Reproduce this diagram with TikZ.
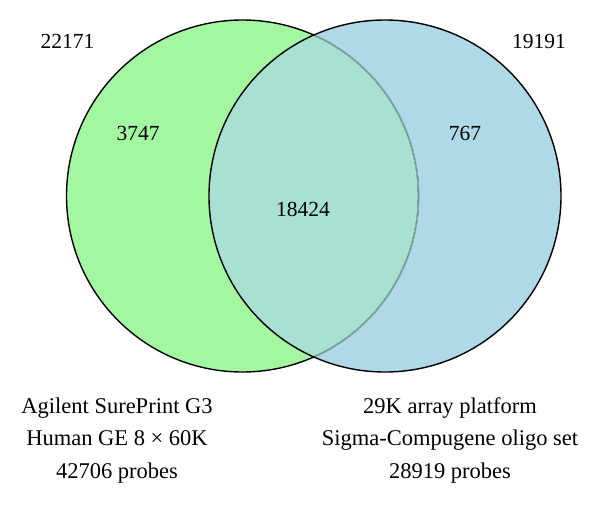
\documentclass[tikz,border=0pt]{standalone}
\usepackage{fontspec}
\setmainfont{Liberation Serif}
\definecolor{vgreen}{RGB}{164,247,161}
\definecolor{vblue}{RGB}{175,217,230}
\definecolor{vmix}{RGB}{168,224,210}
\definecolor{vgray}{RGB}{118,148,148}
\begin{document}
\begin{tikzpicture}[x=1pt,y=-1pt,
  lbl/.style={font=\fontsize{21.5}{26}\selectfont, inner sep=0pt, anchor=base},
  captext/.style={font=\fontsize{22.5}{27}\selectfont, inner sep=0pt, anchor=base},
  rim/.style={line width=1.4pt}]
\useasboundingbox (0,0) rectangle (600,506);
\coordinate (cl) at (242.5,196);
\coordinate (cr) at (385,196);
\fill[vgreen] (cl) circle[radius=176pt];
\fill[vblue] (cr) circle[radius=176pt];
\begin{scope}
  \clip (cl) circle[radius=176pt];
  \fill[vmix] (cr) circle[radius=176pt];
\end{scope}
\draw[rim, black] (cl) circle[radius=176pt];
\begin{scope}
  \clip (cr) circle[radius=176pt];
  \draw[line width=1.6pt, vmix] (cl) circle[radius=176pt];
  \draw[line width=1.1pt, vgray] (cl) circle[radius=176pt];
\end{scope}
\draw[rim, black] (cr) circle[radius=176pt];

\node[lbl] (tA) at (67.5,48) {22171};
\node[lbl] (tB) at (539,48) {19191};
\node[lbl] (oA) at (138,140) {3747};
\node[lbl] (oB) at (465,140) {767};
\node[lbl] (both) at (303,216) {18424};

\node[captext] (l1) at (117,413) {Agilent SurePrint G3};
\node[captext] (l2) at (117,445.5) {Human GE 8 × 60K};
\node[captext] (l3) at (117,478) {42706 probes};
\node[captext] (r1) at (450,413) {29K array platform};
\node[captext] (r2) at (450,445.5) {Sigma-Compugene oligo set};
\node[captext] (r3) at (450,478) {28919 probes};
\end{tikzpicture}
\end{document}
